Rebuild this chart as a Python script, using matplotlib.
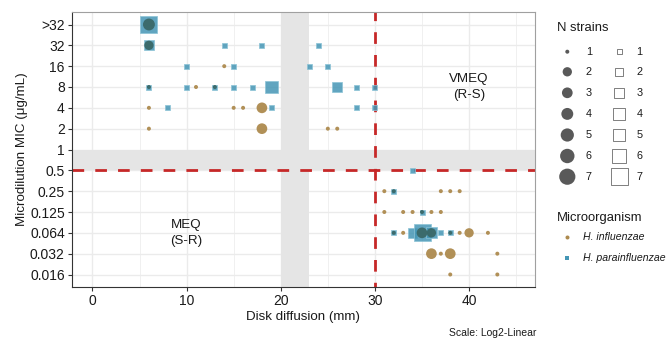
import matplotlib
matplotlib.use("Agg")
import matplotlib.pyplot as plt

plt.rcParams["font.family"] = ["Liberation Sans", "DejaVu Sans"]

# MIC categories, bottom to top
mic_levels = ["0.016", "0.032", "0.064", "0.125", "0.25", "0.5", "1",
              "2", "4", "8", "16", "32", ">32"]

# H. influenzae: disk diameter (mm), MIC, number of strains
hi_disk = [6, 6, 14, 6, 11, 13, 6, 15, 16, 18, 6, 18, 25, 26,
           31, 32, 37, 38, 39,
           31, 33, 34, 35, 36, 37,
           32, 33, 35, 36, 38, 39, 40, 42,
           36, 37, 38, 43,
           38, 43]
hi_mic = [">32", "32", "16", "8", "8", "8", "4", "4", "4", "4", "2", "2", "2", "2",
          "0.25", "0.25", "0.25", "0.25", "0.25",
          "0.125", "0.125", "0.125", "0.125", "0.125", "0.125",
          "0.064", "0.064", "0.064", "0.064", "0.064", "0.064", "0.064", "0.064",
          "0.032", "0.032", "0.032", "0.032",
          "0.016", "0.016"]
hi_n = [4, 2, 1, 1, 1, 1, 1, 1, 1, 3, 1, 3, 1, 1,
        1, 1, 1, 1, 1,
        1, 1, 1, 1, 1, 1,
        1, 1, 3, 2, 1, 1, 2, 1,
        3, 1, 3, 1,
        1, 1]

# H. parainfluenzae
hp_disk = [6, 6, 14, 18, 24,
           10, 15, 23, 25,
           6, 10, 13, 15, 17, 19, 26, 28, 30,
           8, 19, 28, 30,
           34, 32, 35,
           32, 34, 35, 36, 37, 38]
hp_mic = [">32", "32", "32", "32", "32",
          "16", "16", "16", "16",
          "8", "8", "8", "8", "8", "8", "8", "8", "8",
          "4", "4", "4", "4",
          "0.5", "0.25", "0.125",
          "0.064", "0.064", "0.064", "0.064", "0.064", "0.064"]
hp_n = [7, 3, 1, 1, 1,
        1, 1, 1, 1,
        1, 1, 1, 1, 1, 5, 3, 1, 1,
        1, 1, 1, 1,
        1, 1, 1,
        1, 3, 7, 4, 1, 1]

n_breaks = [1, 2, 3, 4, 5, 6, 7]
species = ["H. influenzae", "H. parainfluenzae"]

DPI = 100
# marker widths in pixels for each N
circle_px = {1: 4.0, 2: 9.3, 3: 10.7, 4: 11.9, 5: 13.2, 6: 14.4, 7: 16.2}
square_px = {1: 5.0, 2: 7.7, 3: 9.7, 4: 11.3, 5: 12.5, 6: 14, 7: 17}

BROWN = "#AD8A4E"
TEAL = "#4596B5"
DARK = "#3A6868"
RED = "#C62828"


def area(px):
    return (px * 72 / DPI) ** 2


fig = plt.figure(figsize=(6.68, 3.40), dpi=DPI)
ax = fig.add_axes([71.7 / 668, 1 - 287 / 340, (535 - 71.7) / 668, (287 - 12) / 340])

ax.set_xlim(-2.2, 47.0)
ax.set_ylim(-0.6, 12.6)
ax.set_xticks([0, 10, 20, 30, 40])
ax.set_xticks([5, 15, 25, 35, 45], minor=True)
ax.set_yticks(range(len(mic_levels)))
ax.set_yticklabels(mic_levels)
ax.grid(True, which="major", color="#EBEBEB", linewidth=1.0, zorder=0)
ax.grid(True, which="minor", axis="x", color="#F0F0F0", linewidth=0.7, zorder=0)
ax.set_axisbelow(True)
ax.tick_params(which="major", length=3, width=0.8, color="#333333",
               labelsize=10, labelcolor="#1A1A1A", pad=2)
ax.tick_params(which="minor", length=0)
for side in ["top", "right"]:
    ax.spines[side].set_color("#A0A0A0")
for side in ["left", "bottom"]:
    ax.spines[side].set_color("#333333")
for s in ax.spines.values():
    s.set_linewidth(0.8)

# grey zones
ax.axvspan(20, 23, color="#E5E5E5", zorder=0.6, linewidth=0)
ax.axhspan(mic_levels.index("0.5"), mic_levels.index("1"), color="#E5E5E5",
           zorder=0.6, linewidth=0)

# breakpoints
ax.axvline(30, color=RED, linewidth=2.0, linestyle=(2.5, (4.2, 4.0)), zorder=1)
ax.axhline(mic_levels.index("0.5"), color=RED, linewidth=2.0,
           linestyle=(0, (4.2, 4.0)), zorder=1)

hi_y = [mic_levels.index(m) for m in hi_mic]
hp_y = [mic_levels.index(m) for m in hp_mic]
hp_pos = set(zip(hp_disk, hp_y))

ax.scatter(hp_disk, hp_y, s=[area(square_px[n]) for n in hp_n], marker="s",
           facecolor=TEAL, edgecolor="#8CC3D6", linewidths=0.6, alpha=0.85, zorder=3)
hi_col = [DARK if (x, y) in hp_pos else BROWN for x, y in zip(hi_disk, hi_y)]
ax.scatter(hi_disk, hi_y, s=[area(circle_px[n]) for n in hi_n], marker="o",
           c=hi_col, linewidths=0, alpha=0.95, zorder=4)

ax.text(40, 9, "VMEQ\n(R-S)", ha="center", va="center", fontsize=9.6,
        linespacing=1.5, color="#1A1A1A")
ax.text(10, 2, "MEQ\n(S-R)", ha="center", va="center", fontsize=9.6,
        linespacing=1.5, color="#1A1A1A")

ax.set_xlabel("Disk diffusion (mm)", fontsize=9.6, labelpad=2, color="#1A1A1A")
ax.set_ylabel("Microdilution MIC (μg/mL)", fontsize=9.6, labelpad=1, color="#1A1A1A")

fig.text(536.7 / 668, 1 - 333 / 340, "Scale: Log2-Linear", ha="right", va="center",
         fontsize=7.5, color="#1A1A1A")

# legends, laid out in pixel coordinates
lg = fig.add_axes([0, 0, 1, 1])
lg.set_xlim(0, 668)
lg.set_ylim(340, 0)
lg.axis("off")

lg.text(556.7, 28.3, "N strains", ha="left", va="center", fontsize=9.4, color="#1A1A1A")
row_y = [51.7, 71.8, 92.8, 113.9, 135.0, 156.0, 176.7]
lg.scatter([567.3] * len(n_breaks), row_y, s=[area(circle_px[n]) for n in n_breaks],
           marker="o", color="#595959", linewidths=0)
lg.scatter([619] * len(n_breaks), row_y, s=[area(square_px[n]) for n in n_breaks],
           marker="s", facecolor="none", edgecolor="#7F7F7F", linewidths=0.7)
for n, y in zip(n_breaks, row_y):
    lg.text(589, y, str(n), ha="center", va="center", fontsize=7.8, color="#1A1A1A")
    lg.text(639.3, y, str(n), ha="center", va="center", fontsize=7.8, color="#1A1A1A")

lg.text(556.7, 218.3, "Microorganism", ha="left", va="center", fontsize=9.4,
        color="#1A1A1A")
sp_y = [237.3, 257.7]
lg.scatter([566.7], [sp_y[0]], s=area(4), marker="o", color=BROWN, linewidths=0)
lg.scatter([566.7], [sp_y[1]], s=area(4.5), marker="s", color=TEAL, linewidths=0)
for name, y in zip(species, sp_y):
    lg.text(583.3, y, name, ha="left", va="center", fontsize=7.6, style="italic",
            color="#1A1A1A")

fig.savefig("out.png", dpi=DPI)
